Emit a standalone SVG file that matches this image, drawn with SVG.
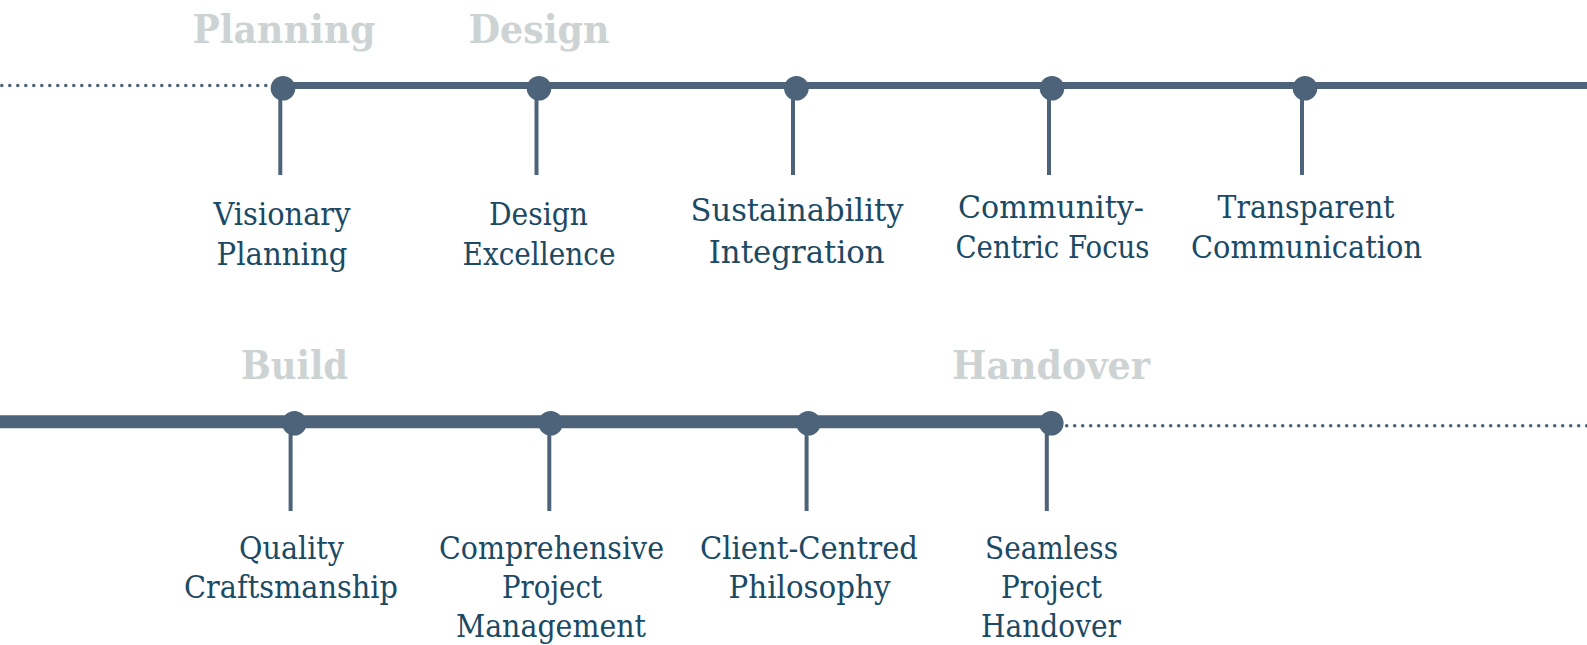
<svg xmlns="http://www.w3.org/2000/svg" width="1587" height="645" viewBox="0 0 1587 645">
<style>
.dot{fill:#4d6379}
.stem{stroke:#4d6379;stroke-width:4}
.main{stroke:#4d6379;fill:none}
.dots{stroke:#4d6379;stroke-width:3.6;stroke-linecap:round;stroke-dasharray:0 8;fill:none}
.lbl{font-family:"DejaVu Serif","Liberation Serif",serif;font-size:31px;fill:#1b4a65;text-anchor:middle}
.ph{font-family:"DejaVu Serif","Liberation Serif",serif;font-weight:bold;font-size:39px;fill:#cdd3d3;text-anchor:middle}
</style>
<rect width="1587" height="645" fill="#ffffff"/>
<g id="connectors">
<line class="dots" x1="1.8" y1="85.5" x2="266" y2="85.5"/>
<line class="main" x1="283" y1="85.5" x2="1587" y2="85.5" stroke-width="7"/>
<line class="main" x1="0" y1="421.7" x2="1052" y2="421.7" stroke-width="13"/>
<line class="dots" x1="1066.7" y1="425.7" x2="1587" y2="425.7"/>
</g>
<g id="phases">
<text class="ph" x="284" y="43" textLength="183" lengthAdjust="spacingAndGlyphs">Planning</text>
<text class="ph" x="539" y="43" textLength="141" lengthAdjust="spacingAndGlyphs">Design</text>
<text class="ph" x="294.5" y="379" textLength="107" lengthAdjust="spacingAndGlyphs">Build</text>
<text class="ph" x="1051" y="379" textLength="198" lengthAdjust="spacingAndGlyphs">Handover</text>
</g>
<g id="node-visionary-planning">
<circle class="dot" cx="283" cy="88.3" r="12.3"/>
<line class="stem" x1="280.3" y1="98" x2="280.3" y2="175"/>
<text class="lbl" x="282" y="225" textLength="137" lengthAdjust="spacingAndGlyphs">Visionary</text>
<text class="lbl" x="282" y="264.5" textLength="131" lengthAdjust="spacingAndGlyphs">Planning</text>
</g>
<g id="node-design-excellence">
<circle class="dot" cx="539" cy="88.3" r="12.3"/>
<line class="stem" x1="536.5" y1="98" x2="536.5" y2="175"/>
<text class="lbl" x="538.5" y="225" textLength="99" lengthAdjust="spacingAndGlyphs">Design</text>
<text class="lbl" x="539" y="264.5" textLength="153" lengthAdjust="spacingAndGlyphs">Excellence</text>
</g>
<g id="node-sustainability-integration">
<circle class="dot" cx="796.4" cy="88.3" r="12.3"/>
<line class="stem" x1="793" y1="98" x2="793" y2="175"/>
<text class="lbl" x="797" y="220.7" textLength="213" lengthAdjust="spacingAndGlyphs">Sustainability</text>
<text class="lbl" x="796.7" y="263.3" textLength="176" lengthAdjust="spacingAndGlyphs">Integration</text>
</g>
<g id="node-community-centric-focus">
<circle class="dot" cx="1052" cy="88.3" r="12.3"/>
<line class="stem" x1="1049" y1="98" x2="1049" y2="175"/>
<text class="lbl" x="1051" y="217.7" textLength="186" lengthAdjust="spacingAndGlyphs">Community-</text>
<text class="lbl" x="1052.5" y="257.7" textLength="194" lengthAdjust="spacingAndGlyphs">Centric Focus</text>
</g>
<g id="node-transparent-communication">
<circle class="dot" cx="1305" cy="88.3" r="12.3"/>
<line class="stem" x1="1302" y1="98" x2="1302" y2="175"/>
<text class="lbl" x="1306" y="217.7" textLength="177" lengthAdjust="spacingAndGlyphs">Transparent</text>
<text class="lbl" x="1306.5" y="257.7" textLength="231" lengthAdjust="spacingAndGlyphs">Communication</text>
</g>
<g id="node-quality-craftsmanship">
<circle class="dot" cx="294.4" cy="423.2" r="12.3"/>
<line class="stem" x1="290.6" y1="432" x2="290.6" y2="511" stroke-width="5"/>
<text class="lbl" x="291.5" y="559" textLength="105" lengthAdjust="spacingAndGlyphs">Quality</text>
<text class="lbl" x="291" y="598" textLength="214" lengthAdjust="spacingAndGlyphs">Craftsmanship</text>
</g>
<g id="node-comprehensive-project-management">
<circle class="dot" cx="550.6" cy="423.2" r="12.3"/>
<line class="stem" x1="549.3" y1="432" x2="549.3" y2="511" stroke-width="5"/>
<text class="lbl" x="551.5" y="559" textLength="225" lengthAdjust="spacingAndGlyphs">Comprehensive</text>
<text class="lbl" x="552" y="598" textLength="100" lengthAdjust="spacingAndGlyphs">Project</text>
<text class="lbl" x="551" y="637" textLength="190" lengthAdjust="spacingAndGlyphs">Management</text>
</g>
<g id="node-client-centred-philosophy">
<circle class="dot" cx="808.4" cy="423.2" r="12.3"/>
<line class="stem" x1="806.6" y1="432" x2="806.6" y2="511" stroke-width="5"/>
<text class="lbl" x="809" y="559" textLength="218" lengthAdjust="spacingAndGlyphs">Client-Centred</text>
<text class="lbl" x="809.5" y="598" textLength="162" lengthAdjust="spacingAndGlyphs">Philosophy</text>
</g>
<g id="node-seamless-project-handover">
<circle class="dot" cx="1051.3" cy="423.2" r="12.3"/>
<line class="stem" x1="1046.8" y1="432" x2="1046.8" y2="511" stroke-width="5"/>
<text class="lbl" x="1051.5" y="559" textLength="133" lengthAdjust="spacingAndGlyphs">Seamless</text>
<text class="lbl" x="1051.5" y="598" textLength="101" lengthAdjust="spacingAndGlyphs">Project</text>
<text class="lbl" x="1051" y="637" textLength="140" lengthAdjust="spacingAndGlyphs">Handover</text>
</g>
</svg>
